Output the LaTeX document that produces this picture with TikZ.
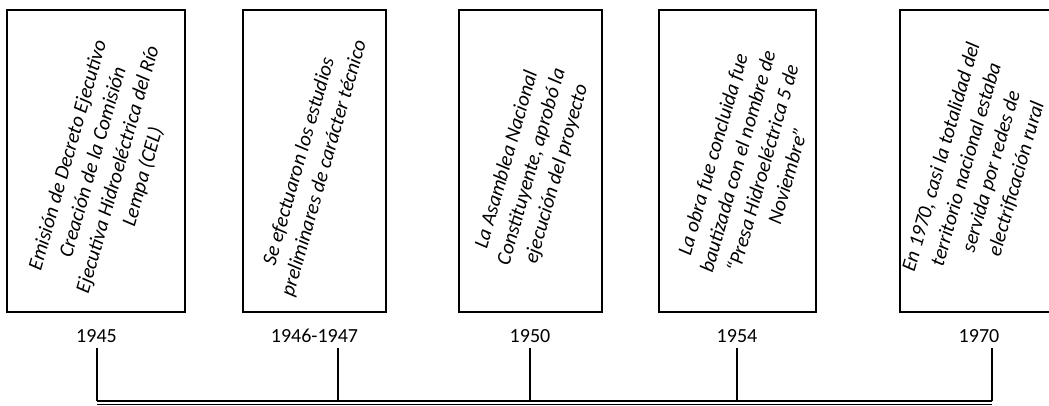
\documentclass[tikz,border=0pt]{standalone}
\usepackage{fontspec}
\setmainfont{Carlito}
\begin{document}
\begin{tikzpicture}[x=1pt,y=-1pt,
  evbox/.style={draw=black,line width=1.6pt,minimum width=#1,minimum height=302pt,inner sep=0pt},
  evtext/.style={rotate=74,align=center,inner sep=0pt,font=\fontsize{20.5}{26}\selectfont\itshape},
  year/.style={anchor=base,inner sep=0pt,font=\fontsize{20}{24}\selectfont},
  tick/.style={line width=1.6pt},
  axis/.style={line width=2pt},
  axisthin/.style={line width=0.8pt}]
\useasboundingbox (0,0) rectangle (1049,405);
\clip (0,0) rectangle (1049,405);
% boxes
\node[evbox=178pt] (b1) at (96,161) {};
\node[evbox=143pt] (b2) at (314.5,161) {};
\node[evbox=143pt] (b3) at (530.5,161) {};
\node[evbox=157pt] (b4) at (737.5,161) {};
\node[evbox=180pt] (b5) at (990,161) {};
% texts
\node[evtext] (t1) at (106,166) {Emisión de Decreto Ejecutivo\\Creación de la Comisión\\Ejecutiva Hidroeléctrica del Río\\Lempa (CEL)};
\node[evtext] (t2) at (312,165) {Se efectuaron los estudios\\preliminares de carácter técnico};
\node[evtext] (t3) at (532,167) {La Asamblea Nacional\\Constituyente, aprobó la\\ejecución del proyecto};
\node[evtext] (t4) at (750,165) {La obra fue concluida fue\\bautizada con el nombre de\\“Presa Hidroeléctrica 5 de\\Noviembre”};
\node[evtext] (t5) at (979,168) {En 1970, casi la totalidad del\\territorio nacional estaba\\servida por redes de\\electrificación rural};
% years
\node[year] (y1) at (96.5,342) {1945};
\node[year] (y2) at (314.5,342) {1946-1947};
\node[year] (y3) at (530,342) {1950};
\node[year] (y4) at (737,342) {1954};
\node[year] (y5) at (979,342) {1970};
% ticks
\coordinate (k1) at (97,348); \coordinate (a1) at (97,401); \coordinate (c1) at (97,404);
\coordinate (k2) at (338,348); \coordinate (a2) at (338,401);
\coordinate (k3) at (530,348); \coordinate (a3) at (530,401);
\coordinate (k4) at (737,348); \coordinate (a4) at (737,401);
\coordinate (k5) at (992,348); \coordinate (a5) at (992,401); \coordinate (c5) at (992,404);
\foreach \i in {1,...,5} {\draw[tick] (k\i) -- (a\i);}
\draw[axis] (a1) -- (a5);
\draw[axisthin] (c1) -- (c5);
\end{tikzpicture}
\end{document}
